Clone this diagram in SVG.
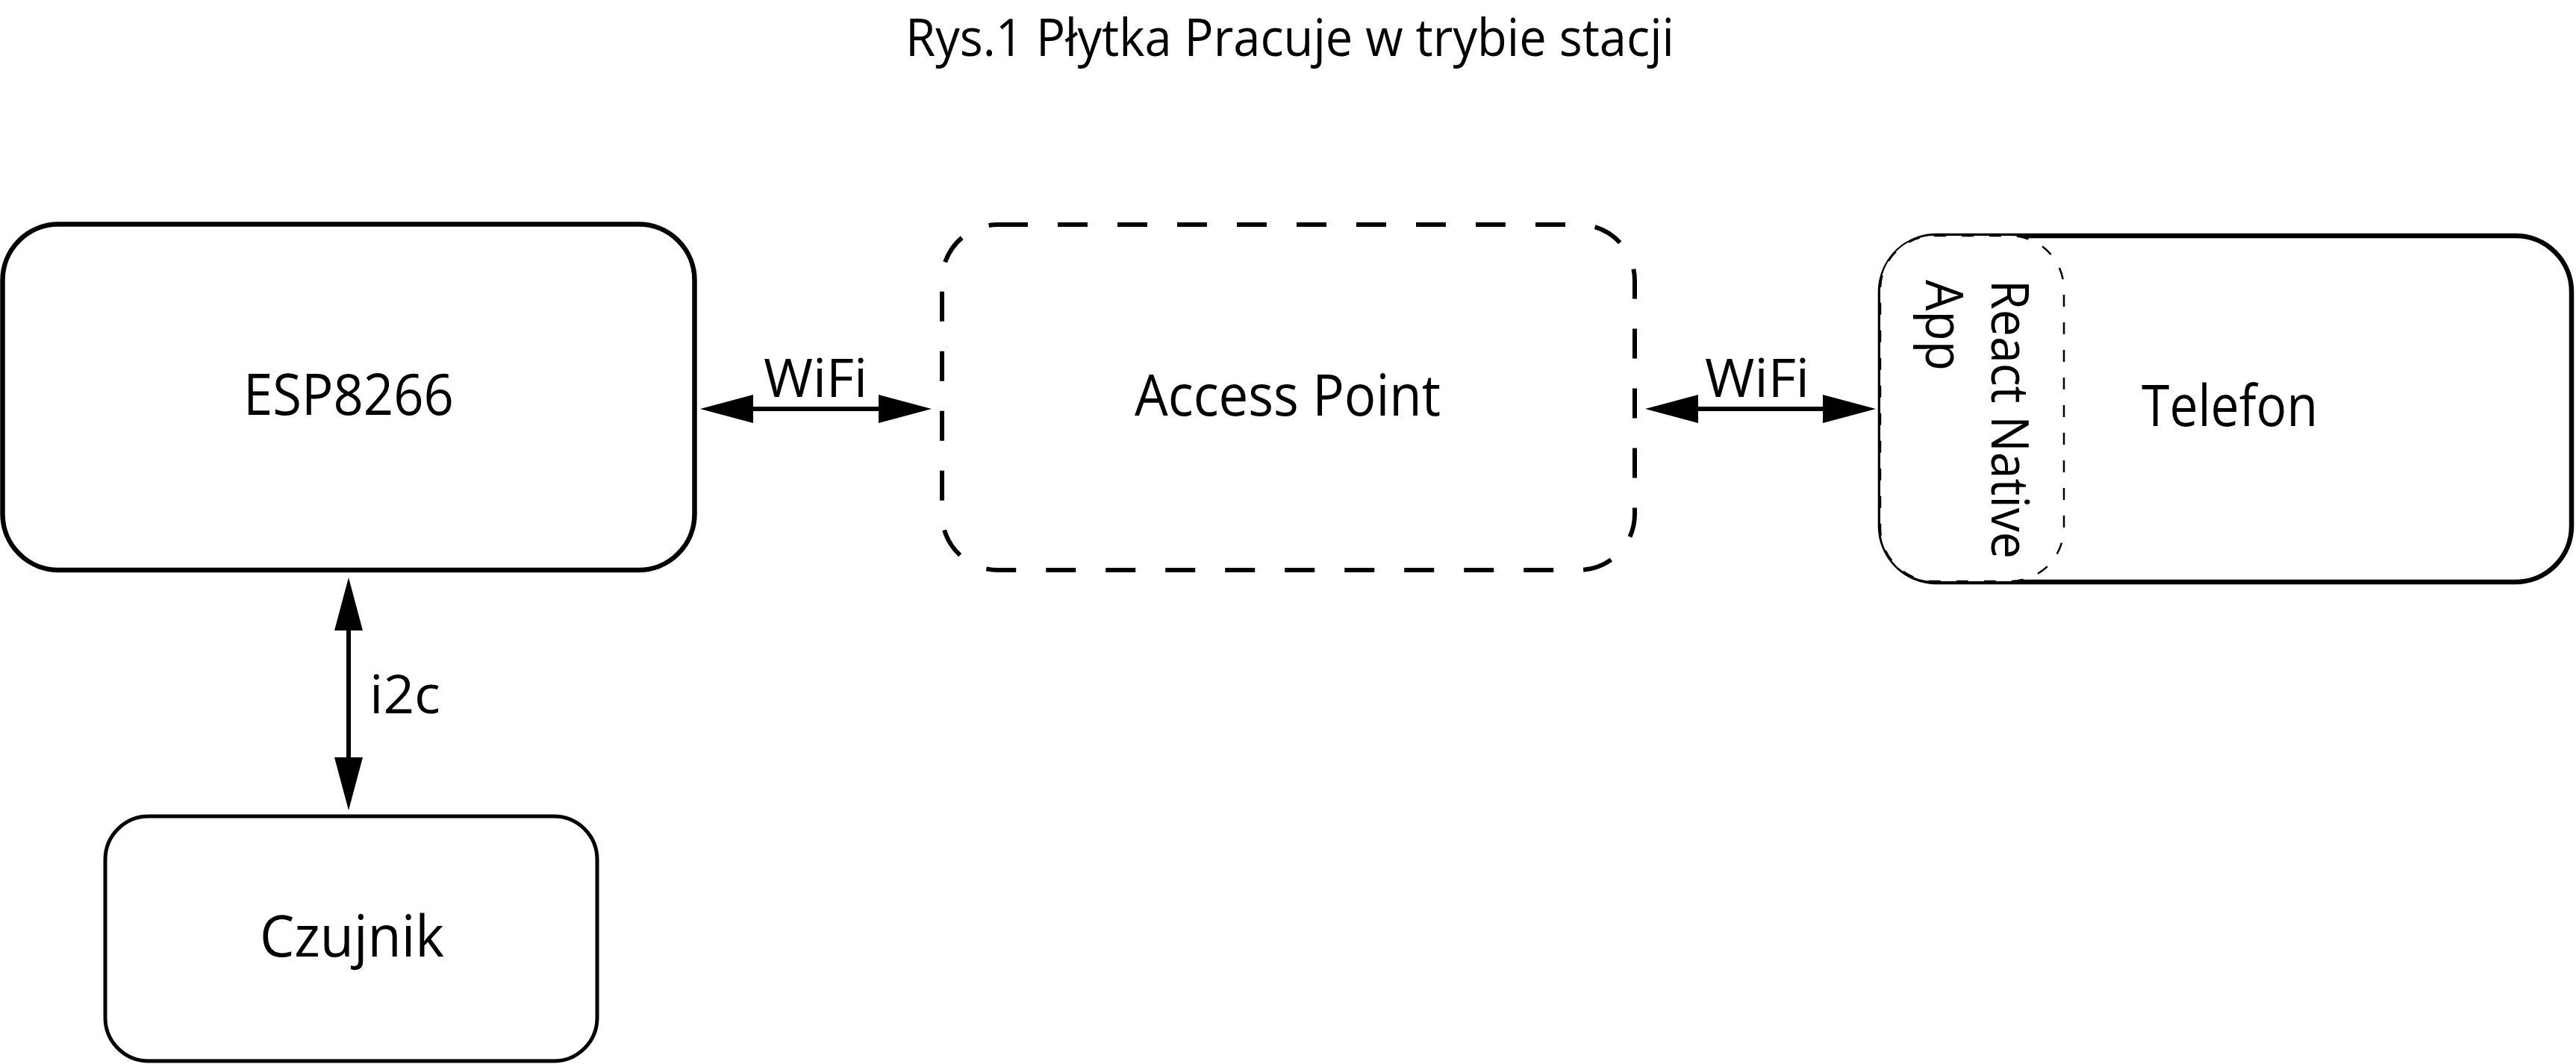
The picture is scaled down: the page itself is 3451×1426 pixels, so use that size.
<svg xmlns="http://www.w3.org/2000/svg" width="3451" height="1426" viewBox="0 0 3451 1426">
  <style>
    text { font-family: "Open Sans", "Noto Sans", "DejaVu Sans", sans-serif; fill: #000; }
    .title { font-size: 69px; }
    .lbl { font-size: 76px; }
    .conn-lbl { font-size: 72px; }
    .app { font-size: 70px; }
    .box { fill: #fff; stroke: #000; stroke-width: 6.5; }
    .small { fill: #fff; stroke: #000; stroke-width: 5; }
    .dashed { fill: #fff; stroke: #000; stroke-width: 6; stroke-dasharray: 40 40; }
    .inner { fill: #fff; stroke: #000; stroke-width: 2.5; stroke-dasharray: 16 21; }
    .wire { stroke: #000; stroke-width: 6; fill: none; marker-start: url(#head); marker-end: url(#head); }
  </style>
  <defs>
    <marker id="head" markerUnits="userSpaceOnUse" viewBox="0 -19 71 38" refX="0" refY="0" markerWidth="71" markerHeight="38" orient="auto-start-reverse">
      <path d="M0,-19 L71,0 L0,19 Z" fill="#000"/>
    </marker>
  </defs>
  <rect width="3451" height="1426" fill="#fff"/>

  <text id="title" class="title" x="1213" y="75" textLength="1030" lengthAdjust="spacingAndGlyphs">Rys.1 Płytka Pracuje w trybie stacji</text>

  <g id="esp8266">
    <rect class="box" x="3.5" y="300.5" width="927" height="463.5" rx="75" ry="75"/>
    <text class="lbl" x="326" y="556" textLength="282" lengthAdjust="spacingAndGlyphs">ESP8266</text>
  </g>

  <g id="access-point">
    <rect class="dashed" x="1262" y="301" width="928" height="463" rx="75" ry="75"/>
    <text class="lbl" x="1520" y="557" textLength="410" lengthAdjust="spacingAndGlyphs">Access Point</text>
  </g>

  <g id="telefon">
    <rect class="box" x="2519" y="316" width="926" height="464" rx="75" ry="75"/>
    <text class="lbl" x="2869" y="571" textLength="236" lengthAdjust="spacingAndGlyphs">Telefon</text>
  </g>

  <g id="react-native-app">
    <rect class="inner" x="2519" y="316" width="246" height="463" rx="72" ry="72"/>
    <text class="app" transform="translate(2668,375) rotate(90)">
      <tspan x="0" y="0" textLength="374" lengthAdjust="spacingAndGlyphs">React Native</tspan>
      <tspan x="0" y="88" textLength="122" lengthAdjust="spacingAndGlyphs">App</tspan>
    </text>
  </g>

  <g id="czujnik">
    <rect class="small" x="141" y="1094" width="659" height="328" rx="58" ry="58"/>
    <text class="lbl" x="348" y="1282" textLength="247" lengthAdjust="spacingAndGlyphs">Czujnik</text>
  </g>

  <g id="connectors">
    <line class="wire" x1="1009" y1="548" x2="1177" y2="548"/>
    <text class="conn-lbl" x="1023" y="532" textLength="139" lengthAdjust="spacingAndGlyphs">WiFi</text>
    <line class="wire" x1="2275" y1="548" x2="2442" y2="548"/>
    <text class="conn-lbl" x="2284" y="532" textLength="140" lengthAdjust="spacingAndGlyphs">WiFi</text>
    <line class="wire" x1="467" y1="845" x2="467" y2="1015"/>
    <text class="conn-lbl" x="495" y="956" textLength="95" lengthAdjust="spacingAndGlyphs">i2c</text>
  </g>
</svg>
